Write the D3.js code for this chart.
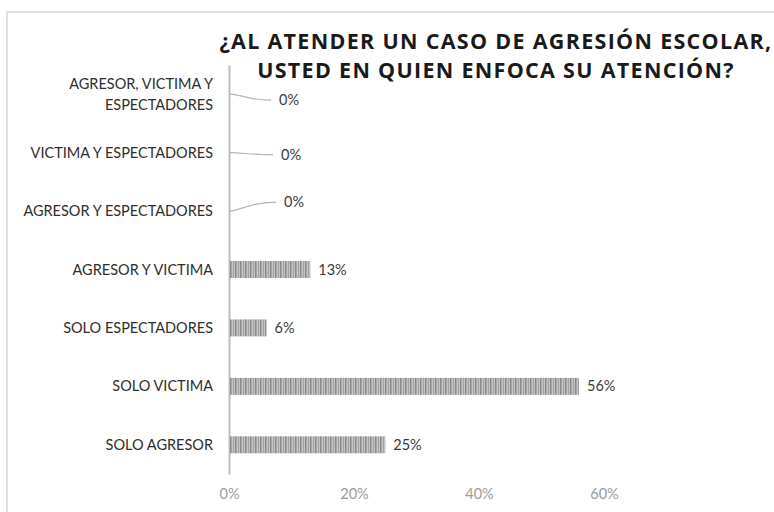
<!DOCTYPE html>
<html>
<head>
<meta charset="utf-8">
<script src="https://cdn.jsdelivr.net/npm/d3@7"></script>
<style>
  body { margin: 0; background: #fff; }
  svg { display: block; font-family: Lato, "Open Sans", sans-serif; }
</style>
</head>
<body>
<script>
// datos (de abajo hacia arriba)
let categories = [
  'SOLO AGRESOR',
  'SOLO VICTIMA',
  'SOLO ESPECTADORES',
  'AGRESOR Y VICTIMA',
  'AGRESOR Y ESPECTADORES',
  'VICTIMA Y ESPECTADORES',
  'AGRESOR, VICTIMA Y ESPECTADORES'
];
let values = [25, 56, 6, 13, 0, 0, 0];
let ticks = [0, 20, 40, 60];
let titleLines = ['¿AL ATENDER UN CASO DE AGRESIÓN ESCOLAR,', 'USTED EN QUIEN ENFOCA SU ATENCIÓN?'];

let frame = { width: 774, height: 512 };
let plot = { left: 229, top: 65, bottom: 474 };

let svg = d3.select('body')
  .append('svg')
  .attr('width', frame.width)
  .attr('height', frame.height);

// marco
svg.append('path')
  .attr('d', `M7,${frame.height} V12 H${frame.width}`)
  .attr('fill', 'none')
  .attr('stroke', '#d8d8d8')
  .attr('stroke-width', 1.5);

// patrón de rayas verticales
let defs = svg.append('defs');
let pat = defs.append('pattern')
  .attr('id', 'stripes')
  .attr('patternUnits', 'userSpaceOnUse')
  .attr('width', 5)
  .attr('height', 10);
pat.append('rect').attr('width', 5).attr('height', 10).attr('fill', '#c4c4c4');
pat.append('rect').attr('x', 0).attr('width', 1.5).attr('height', 10).attr('fill', '#8a8a8a');
pat.append('rect').attr('x', 3).attr('width', 1).attr('height', 10).attr('fill', '#a2a2a2');

let xScale = d3.scaleLinear()
  .domain([0, 60])
  .range([plot.left, plot.left + 375]);

let yScale = d3.scaleBand()
  .domain(d3.range(categories.length))
  .range([plot.bottom, plot.top])
  .paddingInner(0.71)
  .paddingOuter(0.355);

// eje x (solo etiquetas)
let xAxis = d3.axisBottom(xScale)
  .tickValues(ticks)
  .tickSize(0)
  .tickFormat(d => d + '%');

let gx = svg.append('g')
  .attr('transform', `translate(0, 486)`)
  .call(xAxis);
gx.select('.domain').remove();
gx.selectAll('text')
  .attr('fill', '#9a9a9a')
  .style('font-size', '14.5px')
  .style('font-family', 'Lato, sans-serif');

// eje y
let yPos = i => yScale(i) + yScale.bandwidth() / 2;

let yAxis = d3.axisLeft(yScale).tickSize(0).tickFormat('');
let gy = svg.append('g')
  .attr('transform', `translate(${plot.left}, 0)`)
  .call(yAxis);
gy.select('.domain')
  .attr('stroke', '#bdbdbd')
  .attr('stroke-width', 2);

// etiquetas de categorías
let catLabels = svg.selectAll('.cat')
  .data(categories)
  .enter()
  .append('text')
  .attr('class', 'cat')
  .attr('text-anchor', 'end')
  .attr('fill', '#2e2e2e')
  .style('font-size', '14.5px')
  .attr('x', plot.left - 16)
  .attr('y', (d, i) => yPos(i));

catLabels.each(function (d, i) {
  let t = d3.select(this);
  let lines = d === 'AGRESOR, VICTIMA Y ESPECTADORES'
    ? ['AGRESOR, VICTIMA Y', 'ESPECTADORES'] : [d];
  let start = -(lines.length - 1) * 10.5 + 5;
  lines.forEach((l, k) => {
    t.append('tspan')
      .attr('x', plot.left - 16)
      .attr('dy', k === 0 ? start : 21)
      .text(l);
  });
});

// barras
svg.selectAll('.bar')
  .data(values)
  .enter()
  .append('rect')
  .attr('class', 'bar')
  .attr('x', xScale(0) + 1)
  .attr('y', (d, i) => yScale(i))
  .attr('width', d => Math.max(0, xScale(d) - xScale(0) - 1))
  .attr('height', yScale.bandwidth())
  .attr('fill', 'url(#stripes)');

// etiquetas de valor; los 0% con línea guía
let leader = [null, null, null, null, { dx: 46, dy: -9 }, { dx: 43, dy: 2 }, { dx: 41, dy: 6 }];

values.forEach((v, i) => {
  let y = yPos(i);
  let lx = xScale(v) + 8;
  let ly = y;
  if (v === 0) {
    let L = leader[i];
    let x0 = xScale(0) + 1;
    svg.append('path')
      .attr('d', `M${x0},${y} C${x0 + 15},${y + L.dy * 0.2} ${x0 + 20},${y + L.dy} ${x0 + L.dx},${y + L.dy}`)
      .attr('fill', 'none')
      .attr('stroke', '#b5b5b5')
      .attr('stroke-width', 1.2);
    lx = x0 + L.dx + 8;
    ly = y + L.dy;
  }
  svg.append('text')
    .attr('x', lx)
    .attr('y', ly + 5)
    .attr('fill', '#3a3a3a')
    .style('font-size', '14.5px')
    .text(v + '%');
});

// título
svg.append('text')
  .attr('text-anchor', 'middle')
  .attr('fill', '#1a1a1a')
  .style('font-family', '"Open Sans", sans-serif')
  .style('font-weight', 700)
  .style('font-size', '21.5px')
  .style('letter-spacing', '1.3px')
  .selectAll('tspan')
  .data(titleLines)
  .enter()
  .append('tspan')
  .attr('x', 496)
  .attr('y', (d, i) => 49 + i * 28.5)
  .text(d => d);
</script>
</body>
</html>
